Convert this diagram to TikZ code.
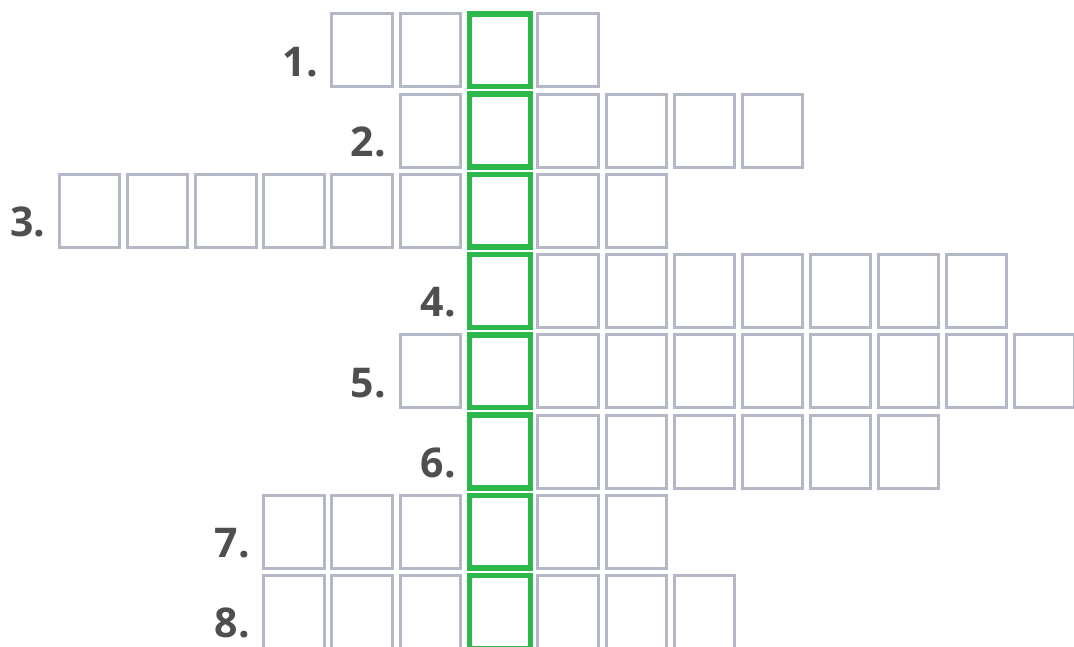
\documentclass[tikz,border=0pt]{standalone}
\usepackage{fontspec}
\setmainfont{Open Sans}
\definecolor{cellgray}{HTML}{B4B7C5}
\definecolor{cellgreen}{HTML}{2DB84B}
\definecolor{labelgray}{HTML}{4F4F4F}
\begin{document}
\begin{tikzpicture}[x=1pt,y=-1pt,
  cell/.style={draw=cellgray,line width=3pt,minimum width=60.3pt,minimum height=73pt,inner sep=0pt,outer sep=0pt},
  keycell/.style={draw=cellgreen,line width=5.5pt,minimum width=61pt,minimum height=72.8pt,inner sep=0pt,outer sep=0pt},
  numlabel/.style={anchor=base east,inner sep=0pt,text=labelgray,font=\fontsize{41}{50}\selectfont\bfseries}]
\useasboundingbox (0,0) rectangle (1074,646);
\clip (0,0) rectangle (1074,646);
\newcommand{\cx}[1]{500+68.1*(#1)-1.7*((#1)<0)}
% row / first column / last column
\foreach \r/\a/\b in {1/-2/1,2/-1/4,3/-6/2,4/0/7,5/-1/8,6/0/6,7/-3/2,8/-3/3}{
  \pgfmathsetmacro{\yy}{50.3+80.25*(\r-1)}
  \foreach \k in {\a,...,\b}{
    \pgfmathsetmacro{\xx}{\cx{\k}}
    \ifnum\k=0\relax\else
      \node[cell] (r\r c\k) at (\xx,\yy) {};
    \fi
  }
  \pgfmathsetmacro{\lx}{\cx{\a}-31.6-12.5}
  \node[numlabel] (l\r) at (\lx,\yy+26.2-0.1*\r) {\r.};
}
\foreach \r in {1,...,8}{
  \pgfmathsetmacro{\yy}{50.3+80.25*(\r-1)}
  \node[keycell] (r\r c0) at (500,\yy) {};
}
\end{tikzpicture}
\end{document}
